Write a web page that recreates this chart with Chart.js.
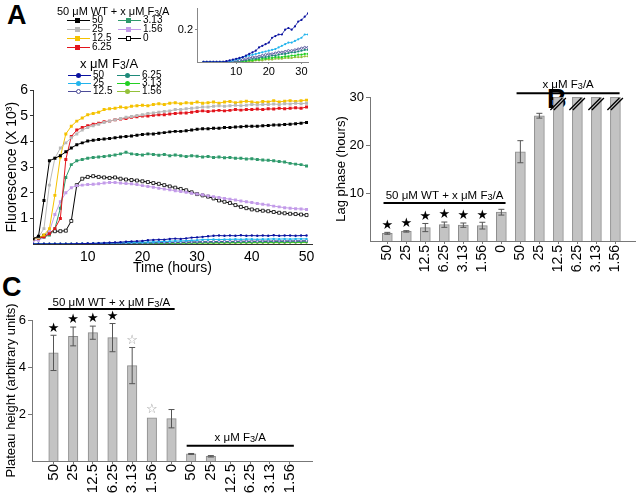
<!DOCTYPE html>
<html>
<head>
<meta charset="utf-8">
<script src="https://cdn.jsdelivr.net/npm/chart.js@4.4.1/dist/chart.umd.min.js"></script>
<style>
  body { margin: 0; background: #fff; }
  #fig { position: relative; width: 638px; height: 494px; overflow: hidden; font-family: "Liberation Sans", Arial, sans-serif; color: #000; }
  #fig canvas { position: absolute; }
  .panel { position: absolute; font-weight: bold; font-size: 27px; line-height: 1; }
  .ltitle { position: absolute; white-space: nowrap; line-height: 1; }
  .item { position: absolute; height: 10px; display: flex; align-items: center; font-size: 10px; line-height: 10px; white-space: nowrap; }
  .item i { position: relative; display: block; width: 23px; height: 1px; margin-right: 2px; }
  .item b { position: absolute; left: 8px; top: -2px; width: 5px; height: 5px; box-sizing: border-box; }
  .sub { font-size: 80%; position: relative; top: 1px; }
</style>
</head>
<body>
<div id="fig">
  <div class="panel" style="left:7px;top:2px">A</div>
  <div class="panel" style="left:547px;top:86px">B</div>
  <div class="panel" style="left:2px;top:274px">C</div>
  <canvas id="chartA" width="320" height="200" style="left:0;top:80px"></canvas>
  <canvas id="chartInset" width="145" height="80" style="left:170px;top:0"></canvas>
  <canvas id="chartB" width="308" height="250" style="left:330px;top:60px"></canvas>
  <canvas id="chartC" width="320" height="214" style="left:0;top:280px"></canvas>
  <div id="legend"></div>
</div>
<script>
Chart.defaults.animation = false;
Chart.defaults.color = '#000';
const FONT = '"Liberation Sans", Arial, sans-serif';
Chart.defaults.font.family = FONT;

// ---- panel A: fluorescence time courses (x 10^3) ----
const timeHours = [0,1,2,3,4,5,6,7,8,9,10,11,12,13,14,15,16,17,18,19,20,21,22,23,24,25,
  26,27,28,29,30,31,32,33,34,35,36,37,38,39,40,41,42,43,44,45,46,47,48,49,50];

// 50 uM WT + x uM F3/A
const wt50 = [0.20,0.30,1.70,3.25,3.35,3.45,3.60,3.75,3.88,3.95, 4.02,4.05,4.08,4.10,4.12,4.15,4.18,4.20,4.22,4.25,
  4.28,4.30,4.30,4.33,4.35,4.38,4.40,4.40,4.42,4.45, 4.48,4.50,4.50,4.52,4.52,4.55,4.55,4.57,4.58,4.60,
  4.60,4.60,4.62,4.63,4.65,4.65,4.67,4.68,4.70,4.72, 4.75];
const wt25 = [0.20,0.26,0.60,2.30,3.35,3.75,3.95,4.15,4.30,4.45, 4.55,4.62,4.68,4.75,4.80,4.85,4.90,4.95,4.98,5.02,
  5.05,5.10,5.12,5.15,5.18,5.20,5.25,5.25,5.28,5.30, 5.32,5.35,5.35,5.38,5.40,5.38,5.40,5.42,5.40,5.42,
  5.45,5.43,5.45,5.45,5.47,5.45,5.48,5.47,5.50,5.48, 5.50];
const wt12 = [0.20,0.24,0.35,0.60,1.90,3.40,4.30,4.60,4.80,4.92, 5.05,5.10,5.15,5.25,5.28,5.30,5.35,5.32,5.38,5.40,
  5.42,5.40,5.45,5.48,5.45,5.50,5.52,5.48,5.52,5.50, 5.55,5.50,5.52,5.55,5.50,5.55,5.57,5.52,5.55,5.58,
  5.55,5.52,5.57,5.55,5.60,5.55,5.58,5.60,5.57,5.60, 5.62];
const wt6 = [0.20,0.22,0.28,0.40,0.60,1.00,3.30,4.20,4.45,4.55, 4.62,4.68,4.72,4.78,4.80,4.85,4.88,4.90,4.95,4.97,
  5.00,5.00,5.03,5.05,5.05,5.08,5.10,5.12,5.12,5.15, 5.18,5.20,5.18,5.20,5.22,5.20,5.22,5.25,5.23,5.25,
  5.25,5.27,5.25,5.28,5.27,5.30,5.28,5.30,5.32,5.30, 5.35];
const wt3 = [0.20,0.22,0.27,0.35,0.60,1.40,2.60,3.10,3.25,3.30, 3.35,3.38,3.40,3.42,3.45,3.48,3.52,3.58,3.52,3.50,
  3.48,3.52,3.50,3.47,3.50,3.45,3.48,3.45,3.42,3.45, 3.43,3.40,3.42,3.38,3.40,3.37,3.38,3.35,3.35,3.32,
  3.33,3.30,3.28,3.27,3.25,3.22,3.20,3.15,3.12,3.10, 3.05];
const wt1 = [0.12,0.15,0.25,0.50,1.15,1.65,2.00,2.20,2.28,2.30, 2.32,2.33,2.35,2.38,2.40,2.40,2.38,2.36,2.35,2.32,
  2.28,2.25,2.22,2.18,2.15,2.12,2.08,2.05,2.02,1.98, 1.95,1.92,1.88,1.85,1.82,1.78,1.75,1.72,1.68,1.65,
  1.62,1.58,1.55,1.52,1.48,1.45,1.42,1.40,1.38,1.37, 1.35];
const wt0 = [0.20,0.25,0.32,0.45,0.50,0.50,0.52,0.90,2.30,2.55, 2.62,2.65,2.62,2.60,2.58,2.60,2.55,2.52,2.50,2.48,
  2.45,2.42,2.38,2.35,2.30,2.25,2.20,2.15,2.10,2.02, 1.95,1.90,1.85,1.78,1.70,1.65,1.60,1.52,1.45,1.40,
  1.35,1.32,1.30,1.28,1.25,1.22,1.20,1.18,1.17,1.15, 1.13];

// x uM F3/A alone
const fa50 = [0,0,0,0,0,0,0,0.005,0.01,0.015, 0.02,0.025,0.03,0.04,0.05,0.06,0.07,0.09,0.10,0.11,
  0.12,0.15,0.16,0.17,0.17,0.20,0.21,0.20,0.22,0.25, 0.26,0.28,0.30,0.32,0.33,0.32,0.33,0.32,0.34,0.32,
  0.33,0.32,0.33,0.32,0.34,0.32,0.33,0.33,0.32,0.33, 0.33];
const fa25 = [0,0,0,0,0,0,0,0,0,0.01, 0.015,0.02,0.03,0.035,0.04,0.045,0.05,0.055,0.06,0.065,
  0.07,0.075,0.08,0.09,0.10,0.11,0.12,0.12,0.13,0.14, 0.15,0.17,0.17,0.18,0.17,0.18,0.18,0.19,0.18,0.19,
  0.19,0.18,0.19,0.19,0.20,0.19,0.20,0.19,0.20,0.20, 0.20];
const fa12 = [0,0,0,0,0,0,0,0,0,0, 0.01,0.01,0.015,0.02,0.025,0.03,0.03,0.035,0.04,0.045,
  0.05,0.05,0.055,0.06,0.06,0.065,0.07,0.07,0.075,0.08, 0.085,0.09,0.09,0.095,0.10,0.10,0.10,0.105,0.11,0.11,
  0.11,0.11,0.115,0.115,0.12,0.12,0.12,0.12,0.12,0.125, 0.125];
const fa6 = [0,0,0,0,0,0,0,0,0,0, 0,0.005,0.01,0.01,0.015,0.02,0.02,0.025,0.03,0.03,
  0.035,0.04,0.04,0.045,0.05,0.05,0.055,0.06,0.06,0.065, 0.07,0.075,0.075,0.08,0.08,0.085,0.085,0.09,0.09,0.09,
  0.095,0.095,0.095,0.10,0.10,0.10,0.10,0.105,0.105,0.105, 0.11];
const fa3 = [0,0,0,0,0,0,0,0,0,0, 0,0,0.005,0.005,0.01,0.01,0.015,0.015,0.02,0.02,
  0.025,0.025,0.03,0.03,0.03,0.035,0.035,0.04,0.04,0.045, 0.045,0.05,0.05,0.05,0.055,0.055,0.055,0.06,0.06,0.06,
  0.06,0.065,0.065,0.065,0.065,0.07,0.07,0.07,0.07,0.07, 0.075];
const fa1 = [0,0,0,0,0,0,0,0,0,0, 0,0,0,0,0.005,0.005,0.01,0.01,0.01,0.015,
  0.015,0.015,0.02,0.02,0.02,0.025,0.025,0.025,0.03,0.03, 0.03,0.035,0.035,0.035,0.04,0.04,0.04,0.04,0.045,0.045,
  0.045,0.045,0.05,0.05,0.05,0.05,0.05,0.055,0.055,0.055, 0.055];

const wtLabels = ['50', '25', '12.5', '6.25', '3.13', '1.56', '0'];
const faLabels = ['50', '25', '12.5', '6.25', '3.13', '1.56'];
const wtSeries = [wt50, wt25, wt12, wt6, wt3, wt1, wt0];
const faSeries = [fa50, fa25, fa12, fa6, fa3, fa1];
const wtColors = ['#000000', '#b9b9b9', '#f5c200', '#e3141c', '#2f9a6c', '#c39be9', '#000000'];
const wtOpen = [false, false, false, false, false, false, true];
const faColors = ['#0a12a0', '#22b4ec', '#4c4c98', '#1f8a7a', '#23d023', '#94c13a'];
const faOpen = [false, false, true, false, false, false];

const xTicksA = [10, 20, 30, 40, 50];
const yTicksA = [1, 2, 3, 4, 5, 6];
const xTicksInset = [10, 20, 30];
const yTicksInset = [0.2];

// ---- panel B: lag phase (hours) ----
const barLabels = ['50', '25', '12.5', '6.25', '3.13', '1.56', '0', '50', '25', '12.5', '6.25', '3.13', '1.56'];
const lagPhase = [1.6, 2.0, 2.8, 3.4, 3.3, 3.2, 6.0, 18.6, 26.1, 30, 30, 30, 30];
const lagErr = [0.2, 0.15, 0.85, 0.55, 0.45, 0.7, 0.6, 2.3, 0.5, 0, 0, 0, 0];
const lagStars = [1, 1, 1, 1, 1, 1, 0, 0, 0, 0, 0, 0, 0];
const lagBroken = [0, 0, 0, 0, 0, 0, 0, 0, 0, 1, 1, 1, 1];
const yTicksB = [10, 20, 30];

// ---- panel C: plateau height ----
const plateau = [4.6, 5.3, 5.46, 5.25, 4.06, 1.84, 1.8, 0.3, 0.2, 0, 0, 0, 0];
const plateauErr = [0.75, 0.4, 0.28, 0.6, 0.77, 0, 0.39, 0.02, 0.03, 0, 0, 0, 0];
const plateauStars = [1, 1, 1, 1, 2, 2, 0, 0, 0, 0, 0, 0, 0]; // 1 filled, 2 open
const yTicksC = [2, 4, 6];

const groupWT = '50 μM WT + x μM F3/A';
const groupFA = 'x μM F3/A';

// text with the "3" of F3/A set smaller and lower
function drawFA(ctx, text, cx, cy, size) {
  const k = text.indexOf('F3/');
  const segs = k < 0 ? [[text, size, 0]]
    : [[text.slice(0, k + 1), size, 0], ['3', size * 0.8, size * 0.12], [text.slice(k + 2), size, 0]];
  let w = 0;
  segs.forEach(s => { ctx.font = s[1] + 'px ' + FONT; s.push(ctx.measureText(s[0]).width); w += s[3]; });
  let x = cx - w / 2;
  ctx.textAlign = 'left';
  ctx.textBaseline = 'middle';
  segs.forEach(s => { ctx.font = s[1] + 'px ' + FONT; ctx.fillText(s[0], x, cy + s[2]); x += s[3]; });
}

function lineSet(label, values, color, open, style, r, bw) {
  return {
    label: label,
    data: values.map((v, i) => ({ x: timeHours[i], y: v })),
    borderColor: color,
    backgroundColor: color,
    pointBackgroundColor: open ? '#ffffff' : color,
    pointBorderColor: color,
    pointBorderWidth: open ? 0.8 : 0,
    pointStyle: style,
    pointRadius: r,
    borderWidth: bw,
    tension: 0
  };
}

const setTicks = list => s => { s.ticks = list.map(v => ({ value: v })); };

// main chart
const setsA = wtSeries.map((d, i) => lineSet(wtLabels[i], d, wtColors[i], wtOpen[i], 'rect', 2.1, 1))
  .concat(faSeries.map((d, i) => lineSet(faLabels[i], d, faColors[i], faOpen[i], 'circle', 1.2, 1)));

new Chart(document.getElementById('chartA'), {
  type: 'line',
  data: { datasets: setsA },
  options: {
    responsive: false,
    animation: false,
    layout: { padding: { top: 10, right: 8, left: 0, bottom: 0 } },
    plugins: { legend: { display: false }, tooltip: { enabled: false } },
    scales: {
      x: {
        type: 'linear', min: 0, max: 51,
        afterBuildTicks: setTicks(xTicksA),
        afterFit: s => { s.height = 36; },
        grid: { display: false, drawTicks: false },
        border: { color: '#333' },
        ticks: { font: { size: 14 }, padding: 5 },
        title: { display: true, text: 'Time (hours)', font: { size: 14 }, padding: { top: 0, bottom: 3 } }
      },
      y: {
        min: 0, max: 6,
        afterBuildTicks: setTicks(yTicksA),
        afterFit: s => { s.width = 33; },
        grid: { display: true, drawOnChartArea: false, tickLength: 3, color: '#333' },
        border: { color: '#333' },
        ticks: { font: { size: 14 }, padding: 2 },
        title: { display: true, text: 'Fluorescence (X 10³)', font: { size: 14 }, padding: { top: 4, bottom: 0 } }
      }
    }
  }
});

// inset: F3/A alone, zoomed
new Chart(document.getElementById('chartInset'), {
  type: 'line',
  data: { datasets: faSeries.map((d, i) => lineSet(faLabels[i], d, faColors[i], faOpen[i], 'circle', 1.1, 0.8)) },
  options: {
    responsive: false,
    animation: false,
    layout: { padding: { top: 5, right: 7, left: 0, bottom: 0 } },
    plugins: { legend: { display: false }, tooltip: { enabled: false } },
    scales: {
      x: {
        type: 'linear', min: -2, max: 32,
        afterBuildTicks: setTicks(xTicksInset),
        afterFit: s => { s.height = 18; },
        grid: { display: true, drawOnChartArea: false, tickLength: 2, color: '#888' },
        border: { color: '#888' },
        ticks: { font: { size: 11 }, padding: 1 }
      },
      y: {
        min: 0, max: 0.33,
        afterBuildTicks: setTicks(yTicksInset),
        afterFit: s => { s.width = 27; },
        grid: { display: true, drawOnChartArea: false, tickLength: 2, color: '#888' },
        border: { color: '#888' },
        ticks: { font: { size: 11 }, padding: 2 }
      }
    }
  }
});

// error bars, stars, break marks, upright labels and group brackets for bar panels
function barExtras(cfg) {
  return {
    id: 'barExtras',
    afterDraw(chart) {
      const ctx = chart.ctx, xs = chart.scales.x, ys = chart.scales.y;
      const vals = cfg.values;
      ctx.save();
      vals.forEach((v, i) => {
        const x = xs.getPixelForValue(i);
        const e = cfg.errors[i];
        const topPx = ys.getPixelForValue(v + e);
        if (e > 0) {
          const botPx = ys.getPixelForValue(v - e);
          ctx.strokeStyle = '#555';
          ctx.lineWidth = 1;
          ctx.beginPath();
          ctx.moveTo(x, topPx); ctx.lineTo(x, botPx);
          ctx.moveTo(x - 3, topPx); ctx.lineTo(x + 3, topPx);
          ctx.moveTo(x - 3, botPx); ctx.lineTo(x + 3, botPx);
          ctx.stroke();
        }
        if (cfg.broken && cfg.broken[i]) {
          ctx.strokeStyle = '#000';
          ctx.lineWidth = 1.3;
          [-2, 1.5].forEach(dx => {
            ctx.beginPath();
            ctx.moveTo(x + dx - 6, topPx + 13);
            ctx.lineTo(x + dx + 6, topPx + 1);
            ctx.stroke();
          });
        }
        if (cfg.stars[i]) {
          ctx.font = '13px "DejaVu Sans"';
          ctx.textAlign = 'center';
          ctx.textBaseline = 'middle';
          ctx.fillStyle = cfg.stars[i] === 1 ? '#000' : '#999';
          ctx.fillText(cfg.stars[i] === 1 ? '★' : '☆', x, topPx - (e > 0 ? 7 : 8));
        }
        // category label reading upwards, ending at the axis
        ctx.save();
        ctx.translate(x, xs.top + cfg.labelGap);
        ctx.rotate(-Math.PI / 2);
        ctx.font = cfg.labelSize + 'px ' + FONT;
        ctx.fillStyle = '#000';
        ctx.textAlign = 'right';
        ctx.textBaseline = 'middle';
        ctx.fillText(chart.data.labels[i], 0, 0);
        ctx.restore();
      });
      cfg.brackets.forEach(b => {
        const x1 = xs.getPixelForValue(b.from), x2 = xs.getPixelForValue(b.to);
        const y = ys.getPixelForValue(b.level);
        ctx.strokeStyle = '#000';
        ctx.lineWidth = 2;
        ctx.beginPath();
        ctx.moveTo(x1, y); ctx.lineTo(x2, y);
        ctx.stroke();
        ctx.fillStyle = '#000';
        drawFA(ctx, b.text, (x1 + x2) / 2, y - b.lift, 11.5);
      });
      ctx.restore();
    }
  };
}

function barChart(id, values, cfg, yMax, yTicks, yTitle, xMin, xMax, pad, yWidth, xHeight, thick) {
  return new Chart(document.getElementById(id), {
    type: 'bar',
    data: {
      labels: barLabels,
      datasets: [{
        data: values.map((v, i) => ({ x: i, y: v })),
        backgroundColor: '#c3c3c3',
        borderColor: '#8c8c8c',
        borderWidth: 1,
        barThickness: thick
      }]
    },
    plugins: [barExtras(Object.assign({ values: values }, cfg))],
    options: {
      responsive: false,
      animation: false,
      layout: { padding: pad },
      plugins: { legend: { display: false }, tooltip: { enabled: false } },
      scales: {
        x: {
          type: 'linear', min: xMin, max: xMax,
          afterBuildTicks: setTicks(barLabels.slice(1).map((_, i) => i + 0.5)),
          afterFit: s => { s.height = xHeight; },
          grid: { display: true, drawOnChartArea: false, tickLength: 3, color: '#777' },
          border: { color: '#777' },
          ticks: { display: false }
        },
        y: {
          min: 0, max: yMax,
          afterBuildTicks: setTicks(yTicks),
          afterFit: s => { s.width = yWidth; },
          grid: { display: true, drawOnChartArea: false, tickLength: 4, color: '#777' },
          border: { color: '#777' },
          ticks: { font: { size: 13 }, padding: 2 },
          title: { display: true, text: yTitle, font: { size: 13 }, padding: { top: 4, bottom: 0 } }
        }
      }
    }
  });
}

barChart('chartB', lagPhase, {
  errors: lagErr, stars: lagStars, broken: lagBroken, labelGap: 4, labelSize: 14,
  brackets: [
    { from: -0.2, to: 6.22, level: 7.9, lift: 7, text: groupWT },
    { from: 6.8, to: 12.22, level: 30.8, lift: 8, text: groupFA }
  ]
}, 30, yTicksB, 'Lag phase (hours)', -0.33, 12.45, { top: 37, right: 3, left: 0, bottom: 0 }, 40, 69, 10);

barChart('chartC', plateau, {
  errors: plateauErr, stars: plateauStars, labelGap: 3, labelSize: 15,
  brackets: [
    { from: -0.27, to: 6.16, level: 6.47, lift: 6, text: groupWT },
    { from: 6.77, to: 12.22, level: 0.65, lift: 8, text: groupFA }
  ]
}, 6, yTicksC, 'Plateau height (arbitrary units)', -0.5, 12.55, { top: 40, right: 8, left: 0, bottom: 0 }, 32, 33, 9.5);

// legends of panel A
function faHtml(text) {
  return text.replace('F3/', 'F<span class="sub">3</span>/');
}
function buildLegend(title, tLeft, tTop, tSize, labels, colors, open, round, rows, cols, perCol) {
  const box = document.getElementById('legend');
  const t = document.createElement('div');
  t.className = 'ltitle';
  t.style.left = tLeft + 'px';
  t.style.top = tTop + 'px';
  t.style.fontSize = tSize + 'px';
  t.innerHTML = faHtml(title);
  box.appendChild(t);
  labels.forEach((lab, i) => {
    const it = document.createElement('div');
    it.className = 'item';
    it.style.left = cols[Math.floor(i / perCol)] + 'px';
    it.style.top = (rows[i % perCol] - 5) + 'px';
    const mk = 'background:' + (open[i] ? '#fff' : colors[i]) + ';border:' + (open[i] ? '1px solid ' + colors[i] : '0') +
      (round ? ';border-radius:50%' : '');
    it.innerHTML = '<i style="background:' + colors[i] + '"><b style="' + mk + '"></b></i><span>' + lab + '</span>';
    box.appendChild(it);
  });
}
buildLegend(groupWT, 57, 6, 11, wtLabels, wtColors, wtOpen, false, [20, 29, 38, 47], [67, 118], 4);
buildLegend(groupFA, 80, 57, 13, faLabels, faColors, faOpen, true, [75, 83, 91], [68, 117], 3);
</script>
</body>
</html>
